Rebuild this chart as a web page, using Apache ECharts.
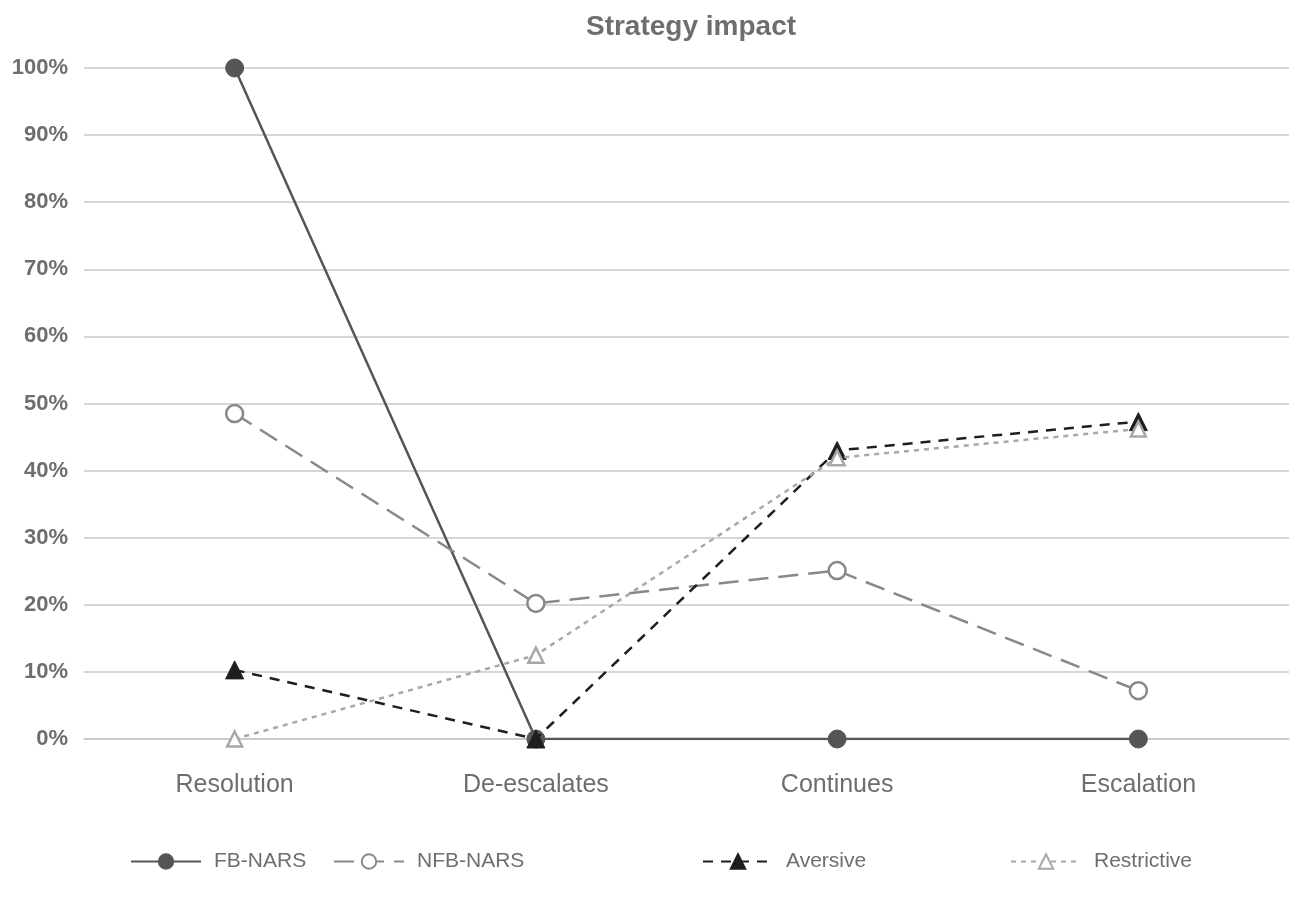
<!DOCTYPE html>
<html><head><meta charset="utf-8">
<script src="https://cdn.jsdelivr.net/npm/echarts@6/dist/echarts.min.js"></script>
<style>html,body{margin:0;padding:0;background:#fff}#c{width:1301px;height:901px}</style>
</head><body><div id="c"></div>
<script>
const categories = ['Resolution', 'De-escalates', 'Continues', 'Escalation'];
const fbNars = [100, 0, 0, 0];
const nfbNars = [48.5, 20.2, 25.1, 7.2];
const aversive = [10.3, 0, 43.0, 47.3];
const restrictive = [0, 12.5, 41.9, 46.2];
const seriesNames = ['FB-NARS', 'NFB-NARS', 'Aversive', 'Restrictive'];

const font = 'Liberation Sans, Arial, Helvetica, sans-serif';
const chart = echarts.init(document.getElementById('c'));
const legendBase = {
  bottom: 24, itemWidth: 70, itemHeight: 18, itemGap: 0,
  textStyle: {fontFamily: font, fontSize: 21, color: '#6e6e70', padding: [0, 0, 0, 8]}
};
chart.setOption({
  animation: false,
  title: {
    text: 'Strategy impact', left: 686, top: 8, textAlign: 'center',
    textStyle: {fontFamily: font, fontSize: 28, fontWeight: 'bold', color: '#6e6e70'}
  },
  legend: [
    Object.assign({}, legendBase, {left: 125, data: [seriesNames[0]]}),
    Object.assign({}, legendBase, {left: 328, data: [seriesNames[1]]}),
    Object.assign({}, legendBase, {left: 697, data: [seriesNames[2]]}),
    Object.assign({}, legendBase, {left: 1005, data: [seriesNames[3]]})
  ],
  grid: {left: 84, right: 12, top: 68, bottom: 162, containLabel: false},
  xAxis: {
    type: 'category', data: categories, boundaryGap: true,
    axisLine: {show: true, lineStyle: {color: '#c8c8c8', width: 1.5}},
    axisTick: {show: false},
    axisLabel: {fontFamily: font, fontSize: 25, color: '#6e6e70', margin: 34}
  },
  yAxis: {
    type: 'value', min: 0, max: 100, interval: 10,
    axisLine: {show: false}, axisTick: {show: false},
    splitLine: {lineStyle: {color: '#c8c8c8', width: 1.5}},
    axisLabel: {fontFamily: font, fontSize: 22, fontWeight: 'bold', color: '#6e6e70', margin: 16, formatter: '{value}%'}
  },
  series: [
    {name: seriesNames[0], type: 'line', data: fbNars, symbol: 'circle', symbolSize: 18,
     lineStyle: {color: '#555557', width: 2.5, type: 'solid'},
     itemStyle: {color: '#555557', borderColor: '#555557', borderWidth: 1}, z: 2},
    {name: seriesNames[1], type: 'line', data: nfbNars, symbol: 'circle', symbolSize: 17,
     lineStyle: {color: '#88888a', width: 2.5, type: [20, 10]},
     itemStyle: {color: '#ffffff', borderColor: '#88888a', borderWidth: 2.5}, z: 3},
    {name: seriesNames[2], type: 'line', data: aversive, symbol: 'triangle', symbolSize: 18,
     lineStyle: {color: '#1e1e1e', width: 2.5, type: [10, 8]},
     itemStyle: {color: '#1e1e1e', borderColor: '#1e1e1e', borderWidth: 1}, z: 4},
    {name: seriesNames[3], type: 'line', data: restrictive, symbol: 'triangle', symbolSize: 15,
     lineStyle: {color: '#a8a8aa', width: 2.5, type: [5, 5]},
     itemStyle: {color: '#ffffff', borderColor: '#a8a8aa', borderWidth: 2.5}, z: 5}
  ]
});
</script></body></html>
